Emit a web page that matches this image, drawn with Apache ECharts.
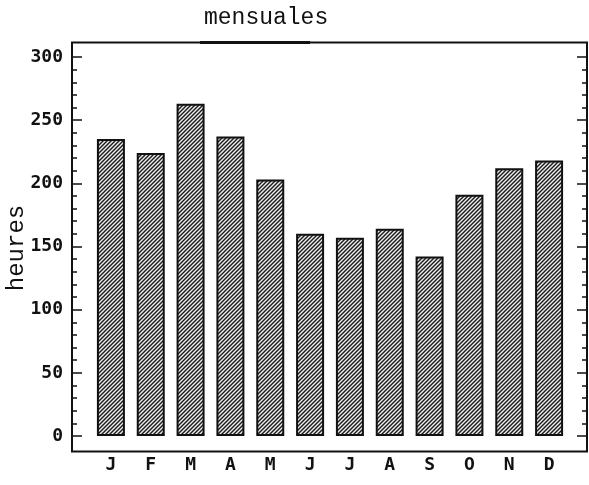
<!DOCTYPE html>
<html>
<head>
<meta charset="utf-8">
<script src="https://cdn.jsdelivr.net/npm/echarts@6/dist/echarts.min.js"></script>
<style>
  html, body { margin: 0; padding: 0; background: #fff; }
  #main { width: 589px; height: 485px; }
</style>
</head>
<body>
<div id="main"></div>
<script>
// données
var mois = ['J', 'F', 'M', 'A', 'M', 'J', 'J', 'A', 'S', 'O', 'N', 'D'];
var heures = [235, 224, 263, 237, 203, 160, 157, 164, 142, 191, 212, 218];
var yTicks = [0, 50, 100, 150, 200, 250, 300];
var yTitre = 'heures';

// motif hachuré pour les barres
var hatch = document.createElement('canvas');
hatch.width = 4;
hatch.height = 4;
var ctx = hatch.getContext('2d');
ctx.fillStyle = '#ececec';
ctx.fillRect(0, 0, 4, 4);
ctx.strokeStyle = '#1a1a1a';
ctx.lineWidth = 1.4;
ctx.beginPath();
ctx.moveTo(-1, 5); ctx.lineTo(5, -1);
ctx.moveTo(-1, 1); ctx.lineTo(1, -1);
ctx.moveTo(3, 5); ctx.lineTo(5, 3);
ctx.stroke();

var myChart = echarts.init(document.getElementById('main'));

var labelFont = {
    color: '#111',
    fontFamily: 'DejaVu Sans Mono',
    fontWeight: 'bold',
    fontSize: 18
};

var tickStyle = { color: '#111', width: 1.5 };

var option = {
    backgroundColor: '#fff',
    animation: false,
    title: {
        text: 'mensuales',
        left: 204,
        top: 6,
        padding: 0,
        textStyle: {
            fontFamily: 'Liberation Mono',
            fontWeight: 'normal',
            fontSize: 23,
            color: '#111'
        }
    },
    grid: {
        left: 91,
        right: 20,
        top: 57,
        bottom: 49,
        outerBoundsMode: 'none'
    },
    xAxis: {
        type: 'category',
        data: mois,
        axisLine: { show: false },
        axisTick: { show: false },
        axisLabel: Object.assign({ margin: 20, interval: 0 }, labelFont)
    },
    yAxis: [
        {
            type: 'value',
            min: yTicks[0],
            max: yTicks[yTicks.length - 1],
            interval: 50,
            offset: 19,
            axisLine: { show: false },
            axisTick: { show: true, inside: true, length: 10, lineStyle: tickStyle },
            minorTick: { show: true, splitNumber: 5, length: 5, lineStyle: tickStyle },
            splitLine: { show: false },
            axisLabel: Object.assign({ margin: 9 }, labelFont)
        },
        {
            type: 'value',
            position: 'right',
            min: yTicks[0],
            max: yTicks[yTicks.length - 1],
            interval: 50,
            offset: 18,
            axisLine: { show: false },
            axisTick: { show: true, inside: true, length: 10, lineStyle: tickStyle },
            minorTick: { show: true, splitNumber: 5, length: 5, lineStyle: tickStyle },
            splitLine: { show: false },
            axisLabel: { show: false }
        }
    ],
    graphic: [
        {
            type: 'rect',
            shape: { x: 72, y: 42.5, width: 515, height: 409 },
            style: { fill: 'none', stroke: '#111', lineWidth: 2 },
            z: 10
        },
        {
            type: 'line',
            shape: { x1: 200, y1: 42.5, x2: 310, y2: 42.5 },
            style: { stroke: '#111', lineWidth: 3 },
            z: 11
        },
        {
            type: 'text',
            x: 17,
            y: 248,
            rotation: Math.PI / 2,
            style: {
                text: yTitre,
                fontFamily: 'Liberation Mono',
                fontSize: 24,
                fill: '#111',
                align: 'center',
                verticalAlign: 'middle'
            },
            z: 12
        }
    ],
    series: [
        {
            type: 'bar',
            data: heures,
            barWidth: 28,
            itemStyle: {
                color: { image: hatch, repeat: 'repeat' },
                borderColor: '#111',
                borderWidth: 2
            }
        }
    ]
};

myChart.setOption(option);
</script>
</body>
</html>
